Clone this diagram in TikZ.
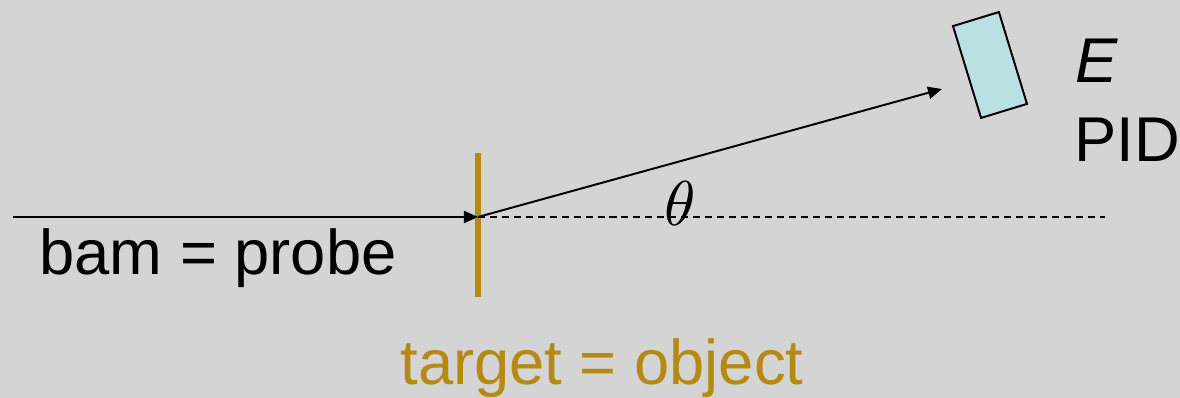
\documentclass[tikz,border=0pt]{standalone}
\usepackage{fontspec}
\setmainfont{Liberation Sans}
\usetikzlibrary{arrows.meta}

\begin{document}
\begin{tikzpicture}[x=0.025cm, y=-0.025cm, every node/.style={font=\fontsize{45}{54}\selectfont}]
		% Define colors
		\definecolor{bggray}{RGB}{212, 212, 212}
		\definecolor{targetgold}{RGB}{181, 137, 18}
		\definecolor{detcyan}{RGB}{187, 224, 227}

		% Styles
		\tikzstyle{ray} = [line width=1.4pt, -{Triangle[length=0.35cm, width=0.3cm]}]
		\tikzstyle{axis_line} = [line width=1.4pt, dash pattern=on 5pt off 3.5pt]
		\tikzstyle{target_bar} = [fill=targetgold, draw=none, inner sep=0pt, minimum width=0.13cm, minimum height=3.6cm]
		\tikzstyle{detector} = [fill=detcyan, draw=black, line width=1.4pt, inner sep=0pt, minimum width=1.2cm, minimum height=2.4cm, rotate=17]
		\tikzstyle{label} = [anchor=base, inner sep=0pt]

		% Background
		\fill[bggray] (0,0) rectangle (1180,398);
		\useasboundingbox (0,0) rectangle (1180,398);

		% Key points
		\coordinate (src) at (13,217);
		\coordinate (vtx) at (478,217);
		\coordinate (far) at (1105,217);
		\coordinate (hit) at (942,89);

		% Target and detector
		\node[target_bar] (target) at (478,225) {};
		\node[detector] (det) at (990,65) {};

		% Beam, axis and scattered particle
		\draw[axis_line] (vtx) -- (far);
		\draw[ray] (src) -- (vtx);
		\draw[ray] (vtx) -- (hit);

		% Labels
		\node[label] (beam) at (218,275) {bam = probe};
		\node[label, text=targetgold] (tlabel) at (602,385) {target = object};
		\node[label, font=\fontsize{10}{12}\selectfont] (theta) at (680,226) {\scalebox{4.5}{$\theta$}};
		\node[label] (energy) at (1097,83) {\textit{E}};
		\node[label] (pid) at (1127,162) {PID};

	\end{tikzpicture}
\end{document}
